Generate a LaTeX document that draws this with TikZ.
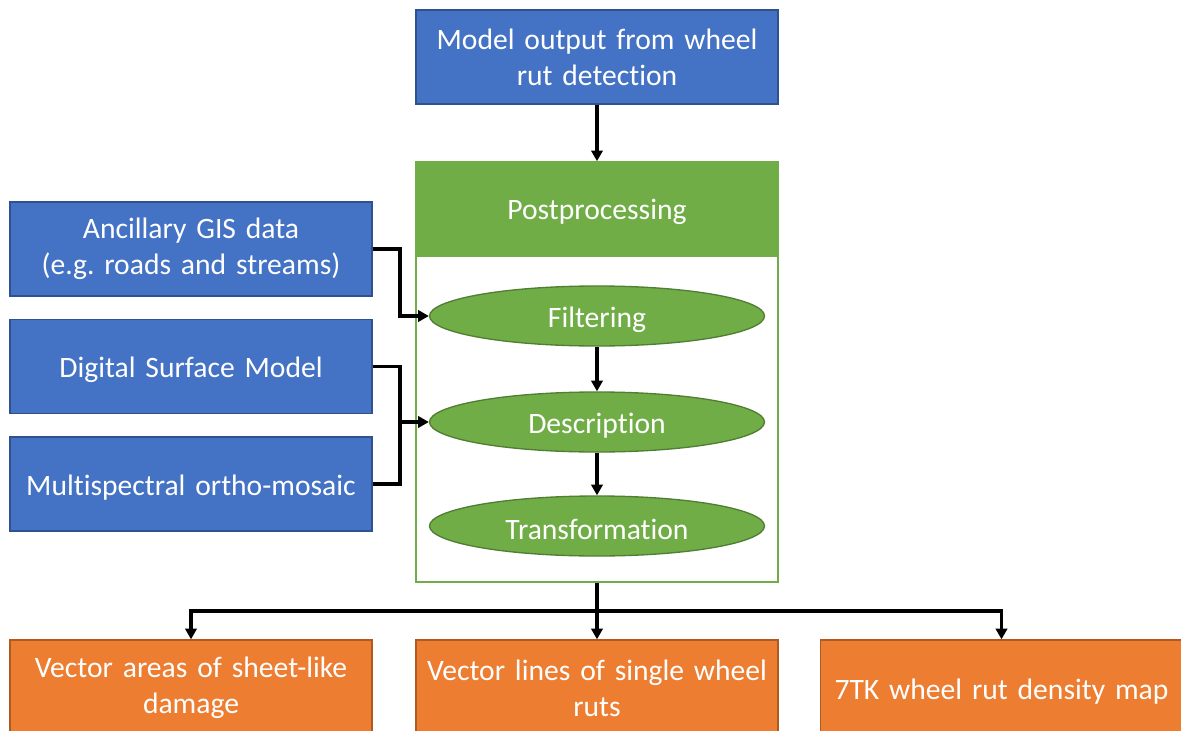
\documentclass[tikz,border=0pt]{standalone}
\usepackage{fontspec}
\setmainfont{Carlito}[Ligatures=NoCommon]
\usetikzlibrary{arrows.meta,shapes.geometric}
\definecolor{bluefill}{HTML}{4472C4}
\definecolor{blueline}{HTML}{2F528F}
\definecolor{greenfill}{HTML}{70AD47}
\definecolor{greenline}{HTML}{507E32}
\definecolor{orangefill}{HTML}{ED7D31}
\definecolor{orangeline}{HTML}{AE5A21}
\newcommand{\lowertext}[1]{\raisebox{-2.5pt}[\height][\depth]{#1}}
\tikzset{
  box/.style={rectangle, draw, line width=1pt, minimum width=362*0.75pt, minimum height=94*0.75pt,
    inner sep=0pt, text width=355*0.75pt, align=center, text=white,
    font=\fontsize{22.2}{27}\selectfont},
  bluebox/.style={box, fill=bluefill, draw=blueline},
  orangebox/.style={box, fill=orangefill, draw=orangeline, minimum height=96*0.75pt},
  greenhead/.style={box, fill=greenfill, draw=greenfill},
  stage/.style={ellipse, fill=greenfill, draw=greenline, line width=1pt, minimum width=335*0.75pt,
    minimum height=60*0.75pt, inner sep=0pt, text=white, font=\fontsize{22.2}{27}\selectfont},
  container/.style={rectangle, draw=greenfill, line width=1.2pt, fill=white, minimum width=362*0.75pt,
    minimum height=420*0.75pt, inner sep=0pt},
  conn/.style={line width=2.6pt, black},
  arr/.style={conn, -{Triangle[length=8pt,width=8.5pt]}}
}
\begin{document}
\begin{tikzpicture}[x=0.75pt,y=-0.75pt]
\useasboundingbox (0,0) rectangle (1181,731);
\clip (0,0) rectangle (1181,731);
\fill[white] (0,0) rectangle (1181,731);
% top input
\node[bluebox] (model) at (597,57) {Model output from wheel\\rut detection};
% container
\node[container] (cont) at (597,372) {};
\node[greenhead] (post) at (597,209) {\lowertext{Postprocessing}};
% left inputs
\node[bluebox] (gis) at (191,249) {Ancillary GIS data\\(e.g.\ roads and streams)};
\node[bluebox] (dsm) at (191,366.5) {\lowertext{Digital Surface Model}};
\node[bluebox] (ms) at (191,484) {\lowertext{Multispectral ortho-mosaic}};
% stages
\node[stage] (filt) at (597,316) {\lowertext{Filtering}};
\node[stage] (desc) at (597,422) {\lowertext{Description}};
\node[stage] (trans) at (597,526) {\lowertext{Transformation}};
% outputs
\node[orangebox] (areas) at (191,688) {Vector areas of sheet-like\\damage};
\node[orangebox] (lines) at (597,688) {Vector lines of single wheel\\ruts};
\node[orangebox] (dens) at (1001.5,688) {\lowertext{7TK wheel rut density map}};
% junctions
\coordinate (jgis) at (400,249);
\coordinate (jin) at (400,422);
\coordinate (jout) at (597,611);
% connectors
\draw[arr] (model) -- (cont.north);
\draw[arr] (gis.east) -- (jgis) |- (filt.west);
\draw[conn] (dsm.east) -| (jin);
\draw[conn] (ms.east) -| (jin);
\draw[arr] (jin) -- (desc.west);
\draw[arr] (filt) -- (desc);
\draw[arr] (desc) -- (trans);
\draw[conn] (cont.south) -- (jout);
\draw[arr] (jout) -| (areas.north);
\draw[arr] (jout) -- (lines.north);
\draw[arr] (jout) -| (dens.north);
\end{tikzpicture}
\end{document}
